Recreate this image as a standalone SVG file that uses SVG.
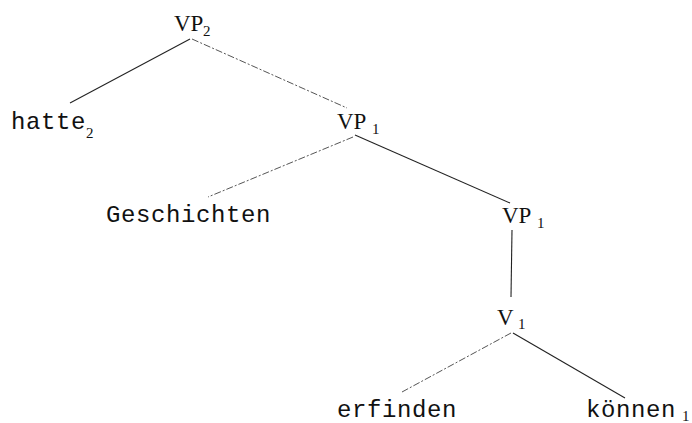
<svg xmlns="http://www.w3.org/2000/svg" width="692" height="423" viewBox="0 0 692 423">
<style>
.cat{font-family:"Liberation Serif",serif;font-size:23px;fill:#111}
.word{font-family:"Liberation Mono",monospace;font-size:24px;letter-spacing:0.6px;fill:#111}
.sub{font-family:"Liberation Serif",serif;font-size:15px;fill:#111}
.edge{stroke:#222;stroke-width:1.1;fill:none}
.faint{stroke:#555;stroke-width:1;stroke-dasharray:7 2 2 2;fill:none}
</style>
<rect width="692" height="423" fill="#fff"/>
<g id="connectors">
<line class="edge" x1="190" y1="39" x2="70" y2="103"/>
<line class="faint" x1="192" y1="39" x2="347" y2="108"/>
<line class="faint" x1="353" y1="137" x2="208" y2="197"/>
<line class="edge" x1="355" y1="135" x2="510" y2="203"/>
<line class="edge" x1="512" y1="230" x2="511" y2="297"/>
<line class="faint" x1="511" y1="333" x2="402" y2="392"/>
<line class="edge" x1="513" y1="333" x2="625" y2="398"/>
</g>
<g id="vp2"><text class="cat" x="174" y="31">VP</text><text class="sub" x="203" y="36">2</text></g>
<g id="hatte"><text class="word" x="11" y="129">hatte</text><text class="sub" x="86" y="138">2</text></g>
<g id="vp1a"><text class="cat" x="337" y="129">VP</text><text class="sub" x="372" y="134">1</text></g>
<g id="geschichten"><text class="word" x="106" y="222">Geschichten</text></g>
<g id="vp1b"><text class="cat" x="502" y="223">VP</text><text class="sub" x="537" y="228">1</text></g>
<g id="v1"><text class="cat" x="497" y="325">V</text><text class="sub" x="518" y="329">1</text></g>
<g id="erfinden"><text class="word" x="337" y="417">erfinden</text></g>
<g id="koennen"><text class="word" x="586" y="417">können</text><text class="sub" x="682" y="421">1</text></g>
</svg>
